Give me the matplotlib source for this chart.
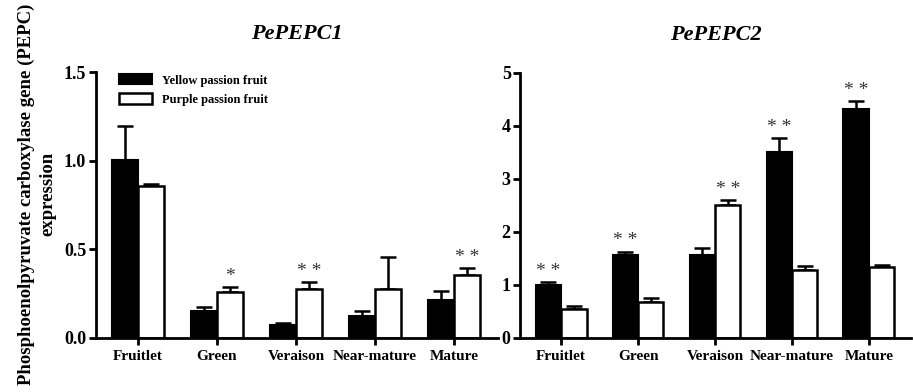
import matplotlib.pyplot as plt
import numpy as np

plt.rcParams['font.family'] = ['Liberation Serif', 'DejaVu Serif']
plt.rcParams['font.weight'] = 'bold'

stages = ['Fruitlet', 'Green', 'Veraison', 'Near-mature', 'Mature']

# PePEPC1
pepc1_yellow = [1.005, 0.15, 0.072, 0.125, 0.215]
pepc1_yellow_err = [0.19, 0.027, 0.013, 0.025, 0.05]
pepc1_purple = [0.855, 0.26, 0.274, 0.274, 0.355]
pepc1_purple_err = [0.015, 0.027, 0.04, 0.18, 0.04]
pepc1_sig = ['', '*', '* *', '', '* *']
pepc1_sig_on = ['', 'purple', 'purple', '', 'purple']

# PePEPC2
pepc2_yellow = [0.99, 1.555, 1.56, 3.51, 4.32]
pepc2_yellow_err = [0.07, 0.075, 0.13, 0.26, 0.15]
pepc2_purple = [0.545, 0.685, 2.51, 1.29, 1.34]
pepc2_purple_err = [0.065, 0.065, 0.09, 0.065, 0.04]
pepc2_sig = ['* *', '* *', '* *', '* *', '* *']
pepc2_sig_on = ['yellow', 'yellow', 'purple', 'yellow', 'yellow']

fig = plt.figure(figsize=(9.13, 3.92), dpi=100)
ax1 = fig.add_axes([0.105, 0.138, 0.44, 0.678])
ax2 = fig.add_axes([0.570, 0.138, 0.428, 0.676])

w = 0.33
x = np.arange(len(stages))


def draw(ax, yel, yel_err, pur, pur_err, sig, sig_on, ymax, ticks, labels, title, off):
    ax.bar(x - w/2, yel, w, color='black', edgecolor='black', linewidth=1.5,
           label='Yellow passion fruit', zorder=2)
    ax.bar(x + w/2, pur, w, color='white', edgecolor='black', linewidth=1.8,
           label='Purple passion fruit', zorder=2)
    # upper error bars only
    ax.errorbar(x - w/2, yel, yerr=[np.zeros(len(yel)), yel_err], fmt='none',
                ecolor='black', elinewidth=1.8, capsize=6, capthick=1.8, zorder=1)
    ax.errorbar(x + w/2, pur, yerr=[np.zeros(len(pur)), pur_err], fmt='none',
                ecolor='black', elinewidth=1.8, capsize=6, capthick=1.8, zorder=1)
    for i in range(len(stages)):
        if sig[i] == '':
            continue
        if sig_on[i] == 'yellow':
            xx = x[i] - w/2
            top = yel[i] + yel_err[i]
        else:
            xx = x[i] + w/2
            top = pur[i] + pur_err[i]
        ax.text(xx, top + off, sig[i], ha='center', va='bottom', fontsize=14,
                fontweight='normal', color='#333333')
    ax.set_xlim(-0.53, 4.55)
    ax.set_ylim(0, ymax)
    ax.set_yticks(ticks)
    ax.set_yticklabels(labels, fontsize=13, fontweight='bold')
    ax.set_xticks(x)
    ax.set_xticklabels(stages, fontsize=11, fontweight='bold')
    ax.spines['top'].set_visible(False)
    ax.spines['right'].set_visible(False)
    ax.spines['left'].set_linewidth(2)
    ax.spines['bottom'].set_linewidth(2)
    ax.tick_params(axis='both', width=2, length=5, direction='out')
    ax.tick_params(axis='y', pad=2)
    ax.set_title(title, fontsize=16, fontweight='bold', style='italic', pad=24)


draw(ax1, pepc1_yellow, pepc1_yellow_err, pepc1_purple, pepc1_purple_err,
     pepc1_sig, pepc1_sig_on, 1.5, [0, 0.5, 1.0, 1.5], ['0.0', '0.5', '1.0', '1.5'],
     'PePEPC1', 0.01)
draw(ax2, pepc2_yellow, pepc2_yellow_err, pepc2_purple, pepc2_purple_err,
     pepc2_sig, pepc2_sig_on, 5, [0, 1, 2, 3, 4, 5], ['0', '1', '2', '3', '4', '5'],
     'PePEPC2', 0.04)

ax1.legend(loc='upper left', bbox_to_anchor=(0.03, 1.035), frameon=False,
           prop={'size': 9, 'weight': 'bold'}, handlelength=2.6, handleheight=0.9,
           labelspacing=0.55, handletextpad=0.8)

fig.text(0.041, 0.505, 'Phosphoenolpyruvate carboxylase gene (PEPC)\nexpression',
         rotation=90, ha='center', va='center', fontsize=13.5, fontweight='bold',
         linespacing=1.35)

fig.savefig('out.png', dpi=100)
